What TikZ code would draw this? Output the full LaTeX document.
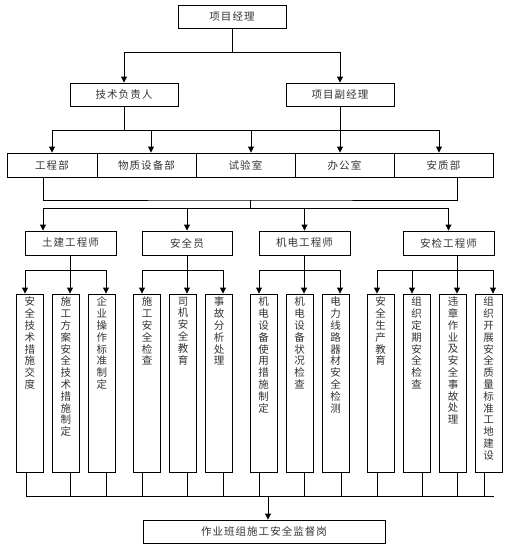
\documentclass[tikz,border=0pt]{standalone}
\usepackage{fontspec}
\setmainfont{Noto Sans CJK SC}[LetterSpace=10]
\usetikzlibrary{arrows.meta}
\tikzset{
  box/.style={draw, line width=0.9pt, minimum height=23pt, inner sep=0pt,
    text=black!80, font=\fontsize{10.5}{12}\selectfont},
  col/.style={draw, line width=0.9pt, minimum width=27pt, minimum height=178pt,
    inner sep=0pt, text=black!80, font=\fontsize{10.5}{11.8}\selectfont},
  link/.style={line width=0.9pt},
  arr/.style={link, -{Triangle[length=6pt,width=6pt]}},
}
\newcommand{\vtext}[1]{\parbox[c][172pt][t]{14pt}{\centering #1}}
\begin{document}
\begin{tikzpicture}[x=1pt,y=-1pt]
\useasboundingbox (0,0) rectangle (509,547);
% leaders
\node[box, minimum width=108pt] (pm) at (232,16.5) {项目经理};
\node[box, minimum width=108pt] (tech) at (124,94.5) {技术负责人};
\node[box, minimum width=108pt] (deputy) at (340,94.5) {项目副经理};
% departments
\node[box, minimum width=90pt, minimum height=24pt] (gcb) at (52,165) {工程部};
\node[box, minimum width=99pt, minimum height=24pt] (wzb) at (146.5,165) {物质设备部};
\node[box, minimum width=99pt, minimum height=24pt] (sys) at (245.5,165) {试验室};
\node[box, minimum width=99pt, minimum height=24pt] (bgs) at (344.5,165) {办公室};
\node[box, minimum width=99pt, minimum height=24pt] (azb) at (443.5,165) {安质部};
% engineers
\node[box, minimum width=91pt, minimum height=24pt] (tj) at (70.5,243) {土建工程师};
\node[box, minimum width=90pt, minimum height=24pt] (aqy) at (187,243) {安全员};
\node[box, minimum width=91pt, minimum height=24pt] (jd) at (304.5,243) {机电工程师};
\node[box, minimum width=91pt, minimum height=24pt] (aj) at (448.5,243) {安检工程师};
% duties
\node[col] (c11) at (30,383) {\vtext{安\\全\\技\\术\\措\\施\\交\\度}};
\node[col] (c12) at (66,383) {\vtext{施\\工\\方\\案\\安\\全\\技\\术\\措\\施\\制\\定}};
\node[col] (c13) at (102,383) {\vtext{企\\业\\操\\作\\标\\准\\制\\定}};
\node[col] (c21) at (147,383) {\vtext{施\\工\\安\\全\\检\\查}};
\node[col] (c22) at (183,383) {\vtext{司\\机\\安\\全\\教\\育}};
\node[col] (c23) at (219,383) {\vtext{事\\故\\分\\析\\处\\理}};
\node[col] (c31) at (263.5,383) {\vtext{机\\电\\设\\备\\使\\用\\措\\施\\制\\定}};
\node[col] (c32) at (299.5,383) {\vtext{机\\电\\设\\备\\状\\况\\检\\查}};
\node[col] (c33) at (335.5,383) {\vtext{电\\力\\线\\路\\器\\材\\安\\全\\检\\测}};
\node[col] (c41) at (380.5,383) {\vtext{安\\全\\生\\产\\教\\育}};
\node[col] (c42) at (416.5,383) {\vtext{组\\织\\定\\期\\安\\全\\检\\查}};
\node[col] (c43) at (453,383) {\vtext{违\\章\\作\\业\\及\\安\\全\\事\\故\\处\\理}};
\node[col] (c44) at (488.5,383) {\vtext{组\\织\\开\\展\\安\\全\\质\\量\\标\\准\\工\\地\\建\\设}};
% post
\node[box, minimum width=242pt] (gang) at (264,531.5) {作业班组施工安全监督岗};

% leaders -> departments
\coordinate (j1) at (232,52);
\draw[link] (pm) -- (j1);
\draw[arr] (j1) -| (tech);
\draw[arr] (j1) -| (deputy);
\coordinate (j2) at (124,130);
\draw[link] (tech) -- (j2);
\draw[arr] (j2) -| (gcb);
\draw[arr] (j2) -| ([xshift=4.5pt]wzb.north);
\draw[arr] (j2) -| ([xshift=5.5pt]sys.north);
\draw[arr] (j2) -| ([xshift=-4.5pt]azb.north);
\draw[arr] (deputy) -- (deputy |- bgs.north);
% departments -> engineers
\coordinate (j3) at (250,200);
\coordinate (j4) at (250,208);
\draw[link] ([xshift=-9pt]gcb.south) |- (j3) -| ([xshift=13.5pt]azb.south);
\draw[link] (j3) -- (j4);
\draw[arr] (j4) -| ([xshift=-27.5pt]tj.north);
\draw[arr] (j4) -| (aqy);
\draw[arr] (j4) -| (jd);
\draw[arr] (j4) -| (aj);
% engineers -> duties
\draw[link] (tj.south) -- ++(0,15) coordinate (k1);
\draw[arr] (k1) -| ([xshift=-5pt]c11.north);
\draw[arr] (k1) -| ([xshift=4pt]c12.north);
\draw[arr] (k1) -| ([xshift=4pt]c13.north);
\draw[link] (aqy.south) -- ++(0,15) coordinate (k2);
\draw[arr] (k2) -| ([xshift=-5pt]c21.north);
\draw[arr] (k2) -| ([xshift=4pt]c22.north);
\draw[arr] (k2) -| ([xshift=4pt]c23.north);
\draw[link] (jd.south) -- ++(0,15) coordinate (k3);
\draw[arr] (k3) -| ([xshift=-4.5pt]c31.north);
\draw[arr] (k3) -| ([xshift=4.5pt]c32.north);
\draw[arr] (k3) -| ([xshift=4.5pt]c33.north);
\draw[link] ([xshift=8.5pt]aj.south) -- ++(0,15) coordinate (k4);
\draw[arr] (k4) -| ([xshift=-3.5pt]c41.north);
\draw[arr] (k4) -| ([xshift=-4.5pt]c42.north);
\draw[arr] (k4) -| ([xshift=4pt]c43.north);
\draw[arr] (k4) -| ([xshift=4.5pt]c44.north);
% duties -> post
\coordinate (j5) at (268,496);
\draw[link] ([xshift=-4pt]c11.south) |- (j5);
\draw[link] ([xshift=4pt]c12.south) |- (j5);
\draw[link] ([xshift=4pt]c13.south) |- (j5);
\draw[link] ([xshift=-5pt]c21.south) |- (j5);
\draw[link] ([xshift=4pt]c22.south) |- (j5);
\draw[link] ([xshift=4pt]c23.south) |- (j5);
\draw[link] ([xshift=-4.5pt]c31.south) |- (j5);
\draw[link] ([xshift=4.5pt]c32.south) |- (j5);
\draw[link] ([xshift=5.5pt]c33.south) |- (j5);
\draw[link] ([xshift=-3.5pt]c41.south) |- (j5);
\draw[link] ([xshift=5.5pt]c42.south) |- (j5);
\draw[link] ([xshift=4pt]c43.south) |- (j5);
\draw[link] ([xshift=-4.5pt]c44.south) |- (j5);
\draw[link] (j5) -- ++(226,0);
\draw[arr] (j5) -- (j5 |- gang.north);
\end{tikzpicture}
\end{document}
